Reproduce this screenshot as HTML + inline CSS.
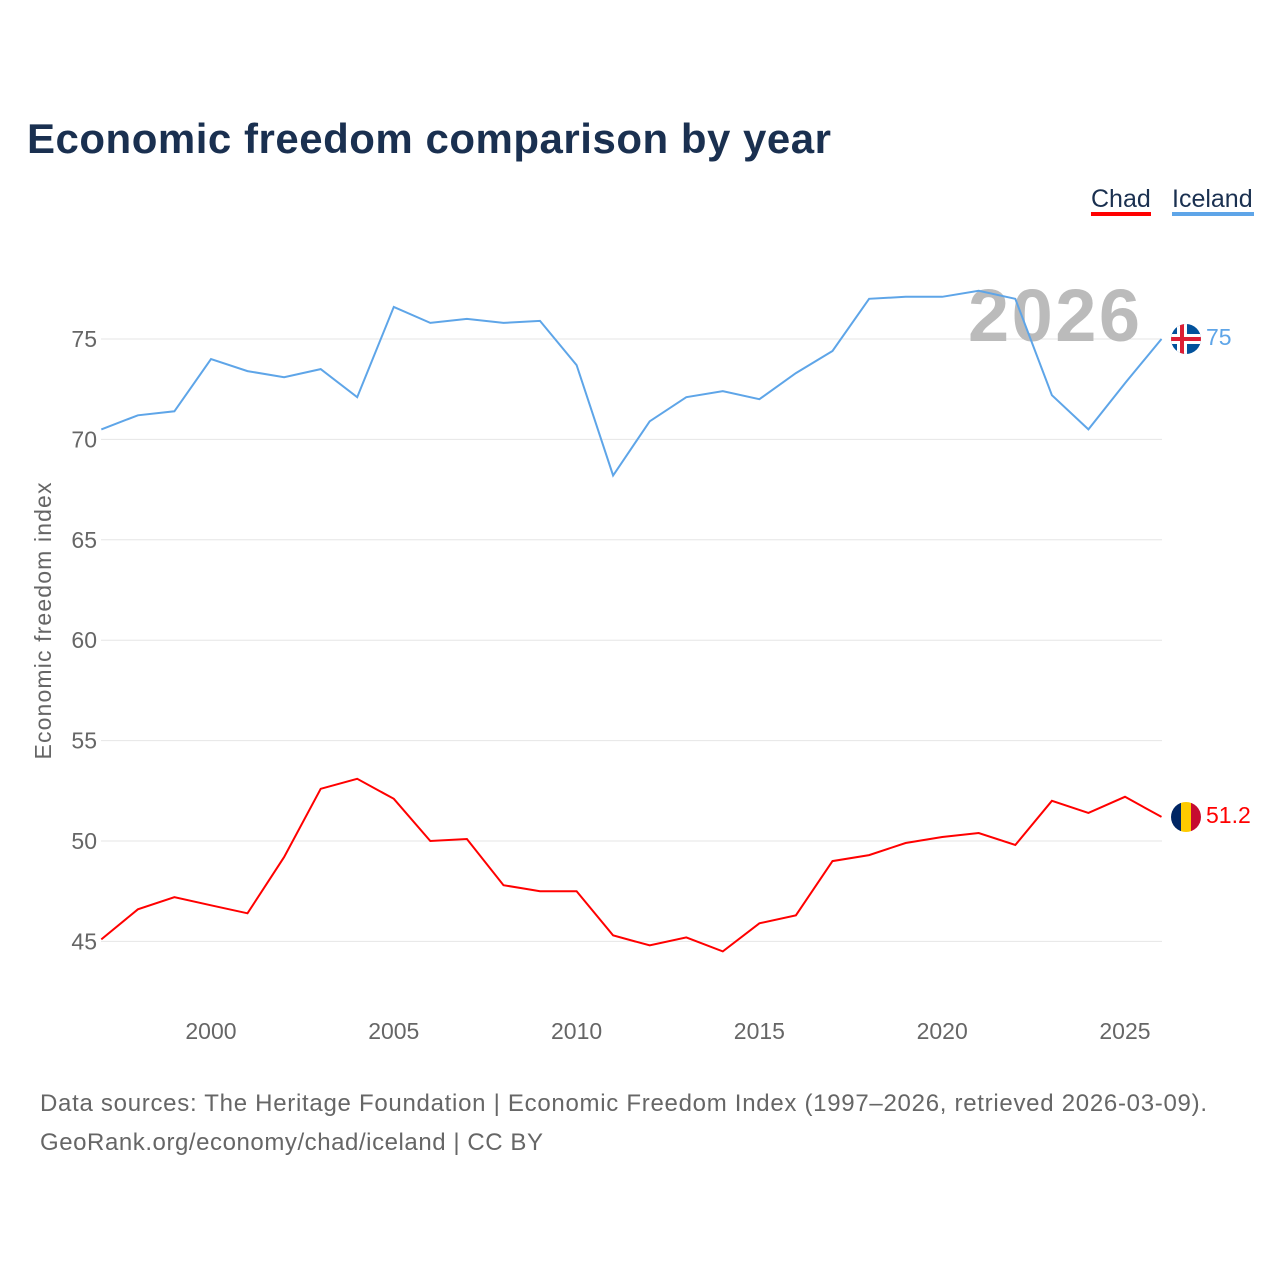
<!DOCTYPE html>
<html><head><meta charset="utf-8"><style>
body{margin:0;background:#fff;font-family:"Liberation Sans",sans-serif;}
svg text{font-family:"Liberation Sans",sans-serif;}
</style></head><body>
<svg id="c" width="1280" height="1280" xmlns="http://www.w3.org/2000/svg">
<text x="27" y="153" font-size="42" font-weight="bold" fill="#1a3050" textLength="804">Economic freedom comparison by year</text>
<g>
<g><text x="1091" y="207" font-size="25" fill="#1a3050">Chad</text><rect x="1091" y="212" width="60" height="4" fill="#ff0000"/></g>
<g><text x="1172" y="207" font-size="25" fill="#1a3050">Iceland</text><rect x="1172" y="212" width="82" height="4" fill="#5ea5e8"/></g>
</g>
<g id="grid"></g>
<text x="968" y="341" font-size="74" font-weight="bold" fill="#bbbbbb" textLength="172">2026</text>
<g id="series"></g>
<text transform="translate(51,621) rotate(-90)" text-anchor="middle" font-size="23" fill="#666" textLength="277">Economic freedom index</text>
<text x="40" y="1111" font-size="24" fill="#666" textLength="1167">Data sources: The Heritage Foundation | Economic Freedom Index (1997–2026, retrieved 2026-03-09).</text>
<text x="40" y="1150" font-size="24" fill="#666" textLength="503">GeoRank.org/economy/chad/iceland | CC BY</text>
<defs><clipPath id="cc"><circle cx="1186" cy="339" r="15"/></clipPath><clipPath id="cc2"><circle cx="1186" cy="817" r="15"/></clipPath></defs>
<g clip-path="url(#cc)">
<rect x="1171" y="324" width="30" height="30" fill="#02529c"/>
<rect x="1171" y="334" width="30" height="10" fill="#fff"/><rect x="1177" y="324" width="10" height="30" fill="#fff"/>
<rect x="1171" y="337" width="30" height="4" fill="#dc1e35"/><rect x="1180" y="324" width="4" height="30" fill="#dc1e35"/>
</g>
<g clip-path="url(#cc2)">
<rect x="1171" y="802" width="10" height="30" fill="#002664"/><rect x="1181" y="802" width="10" height="30" fill="#fecb00"/><rect x="1191" y="802" width="10" height="30" fill="#c60c30"/>
</g>
</svg>
<script>
const years=[1997,1998,1999,2000,2001,2002,2003,2004,2005,2006,2007,2008,2009,2010,2011,2012,2013,2014,2015,2016,2017,2018,2019,2020,2021,2022,2023,2024,2025,2026];
const iceland=[70.5,71.2,71.4,74.0,73.4,73.1,73.5,72.1,76.6,75.8,76.0,75.8,75.9,73.7,68.2,70.9,72.1,72.4,72.0,73.3,74.4,77.0,77.1,77.1,77.4,77.0,72.2,70.5,72.8,75.0];
const chad=[45.1,46.6,47.2,46.8,46.4,49.2,52.6,53.1,52.1,50.0,50.1,47.8,47.5,47.5,45.3,44.8,45.2,44.5,45.9,46.3,49.0,49.3,49.9,50.2,50.4,49.8,52.0,51.4,52.2,51.2];
const yTicks=[45,50,55,60,65,70,75];
const xTicks=[2000,2005,2010,2015,2020,2025];
const NS="http://www.w3.org/2000/svg";
const xs=y=>101.3+(y-1997)*36.56;
const ys=v=>339+(75-v)*20.08;
const svg=document.getElementById('c'),grid=document.getElementById('grid'),ser=document.getElementById('series');
function mk(t,a,p){const e=document.createElementNS(NS,t);for(const k in a)e.setAttribute(k,a[k]);p.appendChild(e);return e;}
yTicks.forEach(v=>{
 const l=mk('line',{x1:101,x2:1162,y1:ys(v),y2:ys(v),stroke:'#e6e6e6','stroke-width':1},grid);
 
 
 const t=mk('text',{x:97,y:ys(v)+8,'text-anchor':'end','font-size':23,fill:'#666'},grid);
 t.textContent=v;
 
 
});
xTicks.forEach(v=>{
 const t=mk('text',{x:xs(v),y:1039,'text-anchor':'middle','font-size':23,fill:'#666'},grid);
 t.textContent=v;
 
 
});
function line(vals,color,name,label){
 const d=vals.map((v,i)=>(i?'L':'M')+xs(years[i]).toFixed(1)+' '+ys(v).toFixed(1)).join(' ');
 const p=mk('path',{d:d,fill:'none',stroke:color,'stroke-width':2},ser);
 
 
 const last=vals[vals.length-1];
 const t=mk('text',{x:1206,y:ys(last)+6,'font-size':23,fill:color},ser);
 t.textContent=label;
 
 
}
line(iceland,'#5ea5e8','iceland-line',String(iceland[iceland.length-1]));
line(chad,'#ff0000','chad-line',String(chad[chad.length-1]));
</script>
</body></html>
